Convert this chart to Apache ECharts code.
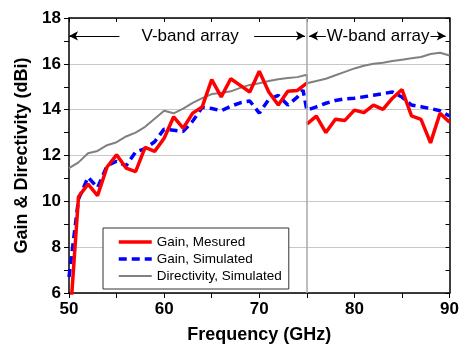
<!DOCTYPE html>
<html>
<head>
<meta charset="utf-8">
<script src="https://cdn.jsdelivr.net/npm/echarts@6/dist/echarts.min.js"></script>
<style>
html,body{margin:0;padding:0;background:#fff;}
#chart{width:462px;height:349px;}
</style>
</head>
<body>
<div id="chart"></div>
<script>
// ---- Data (frequency in GHz, values in dBi) ----
var gainMeasuredV = [
  [50,4.2],[51,10.2],[52,10.75],[53,10.25],[54,11.5],[55,12.03],[56,11.45],[57,11.3],
  [58,12.35],[59,12.18],[60,12.75],[61,13.69],[62,13.19],[63,13.85],[64,14.12],[65,15.31],
  [66,14.56],[67,15.35],[68,15.06],[69,14.77],[70,15.68],[71,14.77],[72,14.2],[73,14.8],
  [74,14.84],[75,15.16]
];
var gainMeasuredW = [
  [75,13.37],[76,13.72],[77,13.0],[78,13.58],[79,13.53],[80,13.98],[81,13.87],[82,14.2],
  [83,14.01],[84,14.5],[85,14.88],[86,13.73],[87,13.58],[88,12.55],[89,13.84],[90,13.45]
];
var gainSimulated = [
  [50,6.7],[51,10.1],[52,11.05],[53,10.6],[54,11.55],[55,11.75],[56,11.55],[57,12.15],
  [58,12.3],[59,12.6],[60,13.15],[61,13.1],[62,13.05],[63,13.5],[64,14.1],[65,14.05],
  [66,13.95],[67,14.15],[68,14.3],[69,14.38],[70,13.85],[71,14.45],[72,14.62],[73,14.2],
  [74,14.55],[74.6,14.85],[75,13.98],[76,14.12],[77,14.28],[78,14.4],[79,14.47],[80,14.5],
  [81,14.56],[82,14.63],[83,14.7],[84,14.77],[85,14.55],[86,14.2],[87,14.13],[88,14.05],
  [89,13.95],[90,13.72]
];
var directivitySimulated = [
  [50,11.45],[51,11.7],[52,12.1],[53,12.2],[54,12.45],[55,12.58],[56,12.83],[57,13.0],
  [58,13.25],[59,13.6],[60,13.95],[61,13.84],[62,14.05],[63,14.3],[64,14.5],[65,14.68],
  [66,14.73],[67,14.8],[68,14.95],[69,15.08],[70,15.15],[71,15.25],[72,15.33],[73,15.38],
  [74,15.42],[75,15.52],[75,15.15],[76,15.25],[77,15.35],[78,15.5],[79,15.65],[80,15.8],
  [81,15.92],[82,16.0],[83,16.05],[84,16.12],[85,16.18],[86,16.24],[87,16.3],[88,16.43],
  [89,16.48],[90,16.36]
];
var seriesNames = ['Gain, Mesured', 'Gain, Simulated', 'Directivity, Simulated'];
var xTitle = 'Frequency (GHz)';
var yTitle = 'Gain & Directivity (dBi)';
var bandSplit = 75;
var vBandLabel = 'V-band array';
var wBandLabel = 'W-band array';
var annotY = 17.22;
var vArrows = [[50, 55.3], [69.46, 74.8]];
var wArrows = [[75.24, 77.0], [88.0, 89.6]];
var vLabelPos = [62.74, annotY];
var wLabelPos = [82.5, annotY];

var FONT = '"Liberation Sans", Arial, Helvetica, sans-serif';

var chart = echarts.init(document.getElementById('chart'), null, {renderer: 'canvas'});

function arrowPair(pairs) {
  return [
    [{coord: [pairs[0][0], annotY], symbol: 'arrow'}, {coord: [pairs[0][1], annotY], symbol: 'none'}],
    [{coord: [pairs[1][0], annotY], symbol: 'none'}, {coord: [pairs[1][1], annotY], symbol: 'arrow'}]
  ];
}

var axisCommon = {
  axisLine: {show: true, onZero: false, lineStyle: {color: '#000', width: 1.5}},
  splitLine: {show: false}
};

var option = {
  animation: false,
  backgroundColor: '#fff',
  grid: {left: 69, right: 11, top: 18, bottom: 53, containLabel: false},
  legend: {
    data: seriesNames,
    orient: 'vertical',
    left: 103,
    top: 228,
    itemWidth: 33,
    itemHeight: 14,
    itemGap: 3,
    padding: [7, 7, 6, 14],
    borderColor: '#333',
    borderWidth: 1,
    backgroundColor: '#fff',
    selectedMode: false,
    lineStyle: {width: 'inherit', type: 'inherit'},
    itemStyle: {color: 'rgba(0,0,0,0)', borderColor: 'rgba(0,0,0,0)', borderWidth: 0, opacity: 0},
    textStyle: {fontFamily: FONT, fontSize: 13.5, color: '#000'}
  },
  xAxis: [
    Object.assign({}, axisCommon, {
      type: 'value', min: 50, max: 90, interval: 10, position: 'bottom',
      name: xTitle, nameLocation: 'middle', nameGap: 33,
      nameTextStyle: {fontFamily: FONT, fontSize: 18, fontWeight: 'bold', color: '#000'},
      axisTick: {show: true, inside: false, length: 5, lineStyle: {color: '#000', width: 1}},
      minorTick: {show: true, splitNumber: 2, length: 5, lineStyle: {color: '#000', width: 1}},
      axisLabel: {fontFamily: FONT, fontSize: 17, fontWeight: 'bold', color: '#000', margin: 8}
    }),
    Object.assign({}, axisCommon, {
      type: 'value', min: 50, max: 90, interval: 10, position: 'top',
      axisTick: {show: true, inside: true, length: 4, lineStyle: {color: '#000', width: 1}},
      minorTick: {show: true, splitNumber: 2, length: 4, lineStyle: {color: '#000', width: 1}},
      axisLabel: {show: false}
    })
  ],
  yAxis: [
    Object.assign({}, axisCommon, {
      type: 'value', min: 6, max: 18, interval: 2, position: 'left',
      name: yTitle, nameLocation: 'middle', nameGap: 38,
      nameTextStyle: {fontFamily: FONT, fontSize: 18, fontWeight: 'bold', color: '#000'},
      axisTick: {show: true, inside: false, length: 5, lineStyle: {color: '#000', width: 1}},
      minorTick: {show: true, splitNumber: 2, length: 5, lineStyle: {color: '#000', width: 1}},
      axisLabel: {fontFamily: FONT, fontSize: 17, fontWeight: 'bold', color: '#000', margin: 8},
      splitLine: {show: true, lineStyle: {color: '#c8c8c8', width: 1}}
    }),
    Object.assign({}, axisCommon, {
      type: 'value', min: 6, max: 18, interval: 2, position: 'right',
      axisTick: {show: true, inside: true, length: 4, lineStyle: {color: '#000', width: 1}},
      minorTick: {show: true, splitNumber: 2, length: 4, lineStyle: {color: '#000', width: 1}},
      axisLabel: {show: false}
    })
  ],
  series: [
    {
      name: seriesNames[2], type: 'line', data: directivitySimulated,
      symbol: 'none', clip: true, z: 2,
      lineStyle: {color: '#808080', width: 2},
      itemStyle: {color: '#808080'},
      markLine: {
        silent: true, symbol: 'none', animation: false,
        label: {show: false},
        lineStyle: {color: '#a8a8a8', width: 1.5, type: 'solid'},
        data: [{xAxis: bandSplit}]
      }
    },
    {
      name: seriesNames[1], type: 'line', data: gainSimulated,
      symbol: 'none', clip: true, z: 3,
      lineStyle: {color: '#0000ff', width: 3.5, type: [8, 5]},
      itemStyle: {color: '#0000ff'}
    },
    {
      name: seriesNames[0], type: 'line', data: gainMeasuredV,
      symbol: 'none', clip: true, z: 4,
      lineStyle: {color: '#ff0000', width: 3.5},
      itemStyle: {color: '#ff0000'},
      markLine: {
        silent: true, animation: false, symbolSize: [7, 9],
        label: {show: false},
        lineStyle: {color: '#000', width: 1, type: 'solid'},
        itemStyle: {color: '#000'},
        data: arrowPair(vArrows).concat(arrowPair(wArrows))
      },
      markPoint: {
        silent: true, animation: false,
        symbol: 'rect', symbolSize: 1,
        itemStyle: {color: 'rgba(0,0,0,0)'},
        label: {show: true, position: 'inside', fontFamily: FONT, fontSize: 17, color: '#000'},
        data: [
          {coord: vLabelPos, label: {formatter: vBandLabel}},
          {coord: wLabelPos, label: {formatter: wBandLabel}}
        ]
      }
    },
    {
      name: seriesNames[0], type: 'line', data: gainMeasuredW,
      symbol: 'none', clip: true, z: 4,
      lineStyle: {color: '#ff0000', width: 3.5},
      itemStyle: {color: '#ff0000'}
    }
  ]
};
chart.setOption(option);
</script>
</body>
</html>
